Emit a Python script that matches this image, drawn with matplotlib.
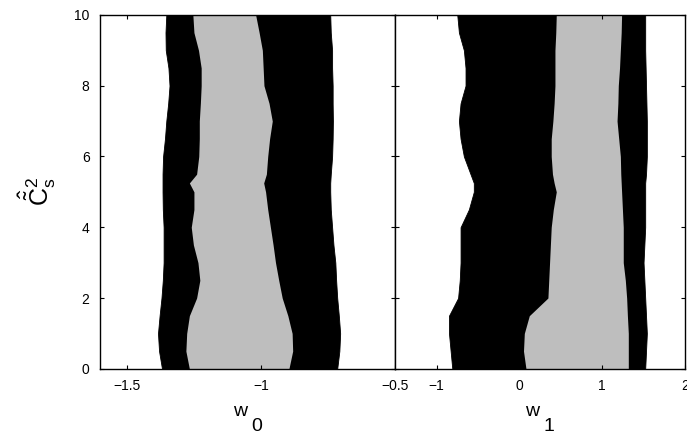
import matplotlib
matplotlib.use('Agg')
import matplotlib.pyplot as plt

# y levels shared by every boundary
cs2 = [0, 0.5, 1, 1.5, 2, 2.5, 3, 3.5, 4, 4.5, 5, 5.25, 5.5, 6, 6.5, 7, 7.5, 8, 8.5, 9, 9.5, 10]

# w0 panel: white|black, black|gray, gray|black, black|white
w0_outer_left = [-1.369, -1.380, -1.384, -1.378, -1.371, -1.366, -1.363, -1.363, -1.363, -1.366, -1.367,
                 -1.367, -1.367, -1.365, -1.358, -1.353, -1.346, -1.341, -1.345, -1.355, -1.356, -1.353]
w0_inner_left = [-1.267, -1.280, -1.277, -1.267, -1.240, -1.228, -1.235, -1.252, -1.260, -1.250, -1.250,
                 -1.267, -1.240, -1.232, -1.230, -1.230, -1.226, -1.223, -1.223, -1.233, -1.250, -1.254]
w0_inner_right = [-0.896, -0.882, -0.884, -0.900, -0.921, -0.934, -0.946, -0.955, -0.965, -0.975, -0.983,
                  -0.990, -0.980, -0.975, -0.968, -0.958, -0.970, -0.989, -0.992, -0.995, -1.007, -1.020]
w0_outer_right = [-0.716, -0.708, -0.705, -0.710, -0.716, -0.720, -0.723, -0.730, -0.735, -0.740, -0.742,
                  -0.742, -0.740, -0.735, -0.733, -0.732, -0.733, -0.733, -0.735, -0.735, -0.740, -0.742]

# w1 panel
w1_outer_left = [-0.81, -0.83, -0.85, -0.85, -0.74, -0.72, -0.71, -0.71, -0.71, -0.61, -0.55,
                 -0.55, -0.59, -0.67, -0.71, -0.73, -0.71, -0.65, -0.65, -0.67, -0.73, -0.75]
w1_inner_left = [0.08, 0.05, 0.06, 0.12, 0.345, 0.355, 0.365, 0.375, 0.385, 0.41, 0.446,
                 0.42, 0.40, 0.385, 0.385, 0.405, 0.42, 0.43, 0.43, 0.43, 0.44, 0.446]
w1_inner_right = [1.316, 1.316, 1.316, 1.305, 1.296, 1.28, 1.255, 1.255, 1.255, 1.245, 1.235,
                  1.23, 1.225, 1.22, 1.2, 1.18, 1.19, 1.195, 1.21, 1.22, 1.23, 1.235]
w1_outer_right = [1.52, 1.53, 1.54, 1.53, 1.52, 1.51, 1.50, 1.51, 1.52, 1.52, 1.52,
                  1.52, 1.53, 1.54, 1.54, 1.54, 1.535, 1.53, 1.525, 1.52, 1.52, 1.52]

GRAY = '#bebebe'

plt.rcParams['font.family'] = ['Liberation Sans', 'DejaVu Sans']
plt.rcParams['mathtext.fontset'] = 'custom'
plt.rcParams['mathtext.rm'] = 'Liberation Sans'
plt.rcParams['mathtext.it'] = 'Liberation Sans'

fig = plt.figure(figsize=(6.87, 4.38), dpi=100)
ax0 = fig.add_axes([0.1456, 0.158, 0.4296, 0.808])
ax1 = fig.add_axes([0.5752, 0.158, 0.4218, 0.808])


def draw_bands(ax, outer_l, inner_l, inner_r, outer_r):
    ax.fill_betweenx(cs2, outer_l, outer_r, color='black', lw=0.6, ec='black')
    ax.fill_betweenx(cs2, inner_l, inner_r, color=GRAY, lw=0)


draw_bands(ax0, w0_outer_left, w0_inner_left, w0_inner_right, w0_outer_right)
draw_bands(ax1, w1_outer_left, w1_inner_left, w1_inner_right, w1_outer_right)

ax0.set_xlim(-1.6, -0.5)
ax1.set_xlim(-1.5, 2)
for ax in (ax0, ax1):
    ax.set_ylim(0, 10)
    ax.set_yticks([0, 2, 4, 6, 8, 10])
    ax.tick_params(direction='in', top=True, right=True, length=3, width=0.8,
                   labelsize=10, pad=7.5)
    for sp in ax.spines.values():
        sp.set_linewidth(1.0)
        sp.set_zorder(5)

ax0.set_xticks([-1.5, -1, -0.5])
ax0.set_xticklabels(['\u22121.5', '\u22121', '\u22120.5'])
ax1.set_xticks([-1, 0, 1, 2])
ax1.set_xticklabels(['\u22121', '0', '1', '2'])
ax1.set_yticklabels([])

# axis names: w with a deeply lowered subscript
for ax, sub in ((ax0, '0'), (ax1, '1')):
    ax.annotate('w', xy=(0.5, 0), xycoords='axes fraction', xytext=(-8, -43),
                textcoords='offset pixels', ha='center', va='center', fontsize=14)
    ax.annotate(sub, xy=(0.5, 0), xycoords='axes fraction', xytext=(9, -58),
                textcoords='offset pixels', ha='center', va='center', fontsize=14)

ax0.set_ylabel(r'$\mathregular{\hat{\tilde{C}}^2_s}$', fontsize=18, labelpad=12)

fig.savefig('out.png', dpi=100)
